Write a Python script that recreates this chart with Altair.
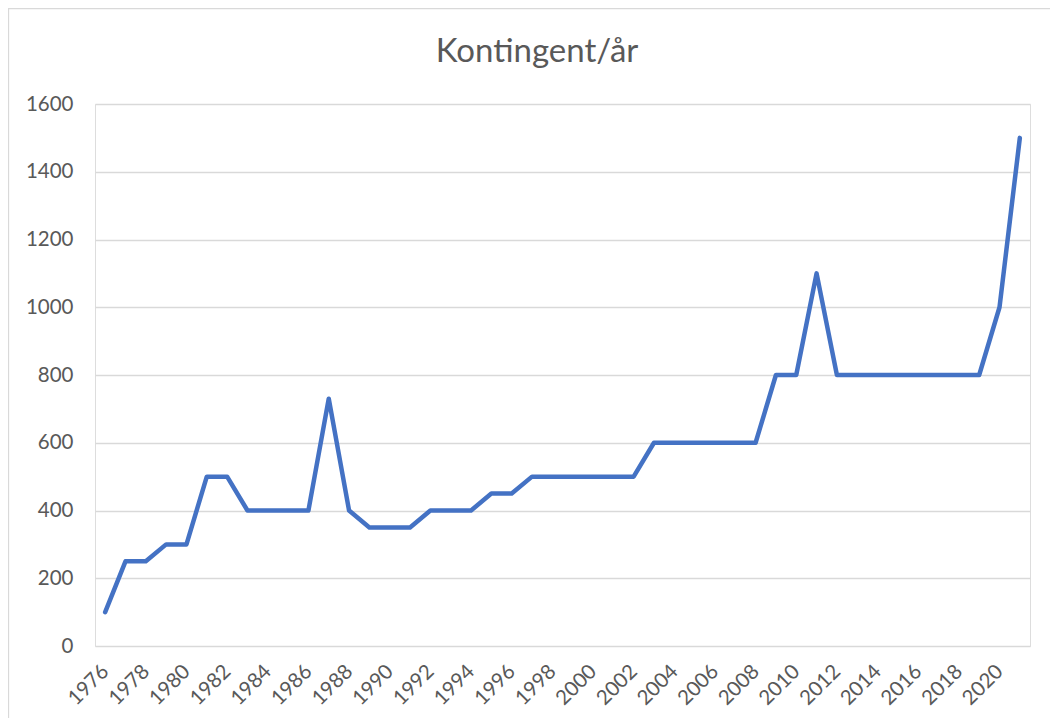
import altair as alt
import pandas as pd

years = list(range(1976, 2022))
values = [100, 250, 250, 300, 300, 500, 500, 400, 400, 400,
          400, 730, 400, 350, 350, 350, 400, 400, 400, 450,
          450, 500, 500, 500, 500, 500, 500, 600, 600, 600,
          600, 600, 600, 800, 800, 1100, 800, 800, 800, 800,
          800, 800, 800, 800, 1000, 1500]
label_years = list(range(1976, 2021, 2))
y_ticks = [0, 200, 400, 600, 800, 1000, 1200, 1400, 1600]
title_text = "Kontingent/år"

df = pd.DataFrame({"year": years, "value": values})

W, H = 935, 542
PL, PT, PR, PB = 87, 96, 20, 72
FONT = "Lato"
GREY = "#595959"

line = alt.Chart(df).mark_line(
    color="#4472C4", strokeWidth=4.5, strokeCap="round", strokeJoin="round"
).encode(
    x=alt.X("year:O", title=None,
            scale=alt.Scale(type="point", padding=0.5),
            axis=alt.Axis(values=label_years, labelAngle=-45, labelAlign="right",
                          labelBaseline="middle", labelPadding=22, ticks=False,
                          domain=False, grid=False, labelColor=GREY,
                          labelFont=FONT, labelFontSize=20.5)),
    y=alt.Y("value:Q", title=None,
            scale=alt.Scale(domain=[0, 1600], nice=False),
            axis=alt.Axis(values=y_ticks, format="d", ticks=False, domain=False,
                          grid=True, gridColor="#d9d9d9", gridWidth=1.3,
                          labelColor=GREY, labelFont=FONT, labelFontSize=20.5,
                          labelPadding=22)),
)

frame = alt.Chart(alt.Data(values=[{}])).mark_rect(
    fillOpacity=0, stroke="#d9d9d9", strokeWidth=1.3
).encode(
    x=alt.value(-PL + 0.5), x2=alt.value(W + PR + 20),
    y=alt.value(-PT + 0.5), y2=alt.value(H + PB + 20),
)

title = alt.Chart(alt.Data(values=[{"t": title_text}])).mark_text(
    font=FONT, fontSize=33, color=GREY, align="center", baseline="alphabetic"
).encode(
    text="t:N", x=alt.value(442), y=alt.value(-42),
)

chart = alt.layer(frame, line, title).properties(
    width=W, height=H,
    autosize=alt.AutoSizeParams(type="none"),
    padding={"left": PL, "top": PT, "right": PR, "bottom": PB},
).configure_view(stroke=None).configure(background="white")

chart.save("out.html", embed_options={"renderer": "svg", "actions": False})
